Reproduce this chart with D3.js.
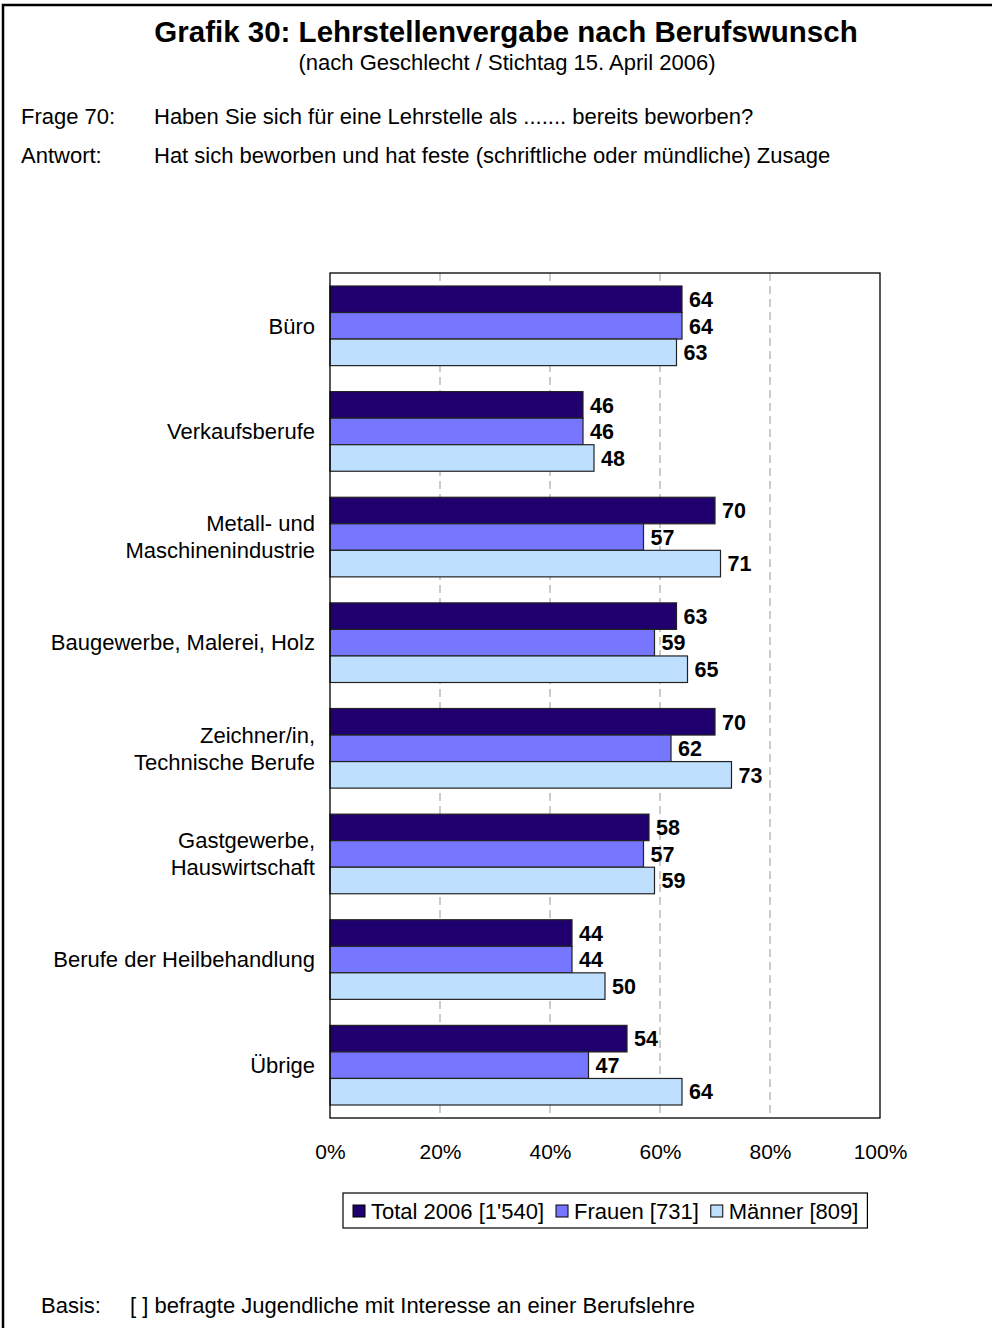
<!DOCTYPE html>
<html><head><meta charset="utf-8">
<script src="https://cdn.jsdelivr.net/npm/d3@7"></script>
<style>
html,body{margin:0;padding:0;background:#fff;}
svg{display:block;font-family:"Liberation Sans",Arial,sans-serif;}
</style></head>
<body>
<svg id="c" width="992" height="1328"></svg>
<script>
const categories = [["Büro"],["Verkaufsberufe"],["Metall- und","Maschinenindustrie"],["Baugewerbe, Malerei, Holz"],["Zeichner/in,","Technische Berufe"],["Gastgewerbe,","Hauswirtschaft"],["Berufe der Heilbehandlung"],["Übrige"]];
const seriesNames = ["Total 2006 [1'540]","Frauen [731]","Männer [809]"];
const total2006 = [64,46,70,63,70,58,44,54];
const frauen = [64,46,57,59,62,57,44,47];
const maenner = [63,48,71,65,73,59,50,64];
const seriesValues = [total2006, frauen, maenner];
const xTicks = [0,20,40,60,80,100];
const colors = ["#1f006e","#7676ff","#bfdfff"];

const svg = d3.select("#c");
const font = "\"Liberation Sans\",Arial,sans-serif";
const fs = 22;

// outer frame
svg.append("rect").attr("x",3).attr("y",5).attr("width",1000).attr("height",1400)
  .attr("fill","none").attr("stroke","#000").attr("stroke-width",2.5);

svg.append("text").attr("x",506).attr("y",32).attr("dy","0.35em").attr("text-anchor","middle")
  .attr("font-size",29.5).attr("font-weight","bold").text("Grafik 30: Lehrstellenvergabe nach Berufswunsch");
svg.append("text").attr("x",507).attr("y",62).attr("dy","0.35em").attr("text-anchor","middle")
  .attr("font-size",fs).text("(nach Geschlecht / Stichtag 15. April 2006)");
svg.append("text").attr("x",21).attr("y",116).attr("dy","0.35em").attr("font-size",fs).text("Frage 70:");
svg.append("text").attr("x",154).attr("y",116).attr("dy","0.35em").attr("font-size",fs).text("Haben Sie sich für eine Lehrstelle als ....... bereits beworben?");
svg.append("text").attr("x",21).attr("y",155).attr("dy","0.35em").attr("font-size",fs).text("Antwort:");
svg.append("text").attr("x",154).attr("y",155).attr("dy","0.35em").attr("font-size",fs).text("Hat sich beworben und hat feste (schriftliche oder mündliche) Zusage");
svg.append("text").attr("x",41).attr("y",1305).attr("dy","0.35em").attr("font-size",fs).text("Basis:");
svg.append("text").attr("x",130).attr("y",1305).attr("dy","0.35em").attr("font-size",fs).text("[ ] befragte Jugendliche mit Interesse an einer Berufslehre");

const L=330, R=880, T=273, B=1118;
const x = d3.scaleLinear().domain([0,100]).range([L,R]);
const y = d3.scaleBand().domain(d3.range(categories.length)).range([T,B]).padding(0);
const inner = d3.scaleBand().domain(d3.range(seriesNames.length)).range([0,y.bandwidth()]).paddingInner(0).paddingOuter(0.49);

const g = svg.append("g");
// gridlines
g.selectAll("line.grid").data(xTicks.filter(t=>t>0&&t<100)).join("line")
  .attr("x1",d=>x(d)).attr("x2",d=>x(d)).attr("y1",T).attr("y2",B)
  .attr("stroke","#999").attr("stroke-width",1).attr("stroke-dasharray","8,5");

// bars
seriesValues.forEach((vals,si)=>{
  g.selectAll("rect.s"+si).data(vals).join("rect")
    .attr("x",x(0)).attr("y",(d,i)=>y(i)+inner(si))
    .attr("width",d=>x(d)-x(0)).attr("height",inner.bandwidth())
    .attr("fill",colors[si]).attr("stroke","#222").attr("stroke-width",1.2);
  g.selectAll("text.v"+si).data(vals).join("text")
    .attr("x",d=>x(d)+7).attr("y",(d,i)=>y(i)+inner(si)+inner.bandwidth()/2).attr("dy","0.36em")
    .attr("font-size",21.5).attr("font-weight","bold").text(d=>d);
});

// plot frame
svg.append("rect").attr("x",L).attr("y",T).attr("width",R-L).attr("height",B-T)
  .attr("fill","none").attr("stroke","#000").attr("stroke-width",1.3);

// category labels
categories.forEach((lines,i)=>{
  const cy = y(i)+y.bandwidth()/2;
  const t = svg.append("text").attr("text-anchor","end").attr("font-size",fs);
  lines.forEach((ln,j)=>{
    t.append("tspan").attr("x",315).attr("y",cy+(j-(lines.length-1)/2)*27).attr("dy","0.35em").text(ln);
  });
});

// x axis
const xAxis = d3.axisBottom(x).tickValues(xTicks).tickFormat(d=>d+"%").tickSize(0).tickPadding(0);
const ax = svg.append("g").attr("transform",`translate(0,${1152})`).call(xAxis);
ax.select(".domain").remove();
ax.selectAll("text").attr("font-size",21).attr("font-family",font).attr("fill","#000").attr("dy","0.35em").attr("y",0);

// legend
const lg = svg.append("g");
let cx = 353;
const ly = 1211;
seriesNames.forEach((n,i)=>{
  lg.append("rect").attr("x",cx).attr("y",ly-6).attr("width",12).attr("height",12)
    .attr("fill",colors[i]).attr("stroke","#000").attr("stroke-width",1);
  const t = lg.append("text").attr("x",cx+18).attr("y",ly).attr("dy","0.35em").attr("font-size",fs).text(n);
  cx += 18 + t.node().getComputedTextLength() + 12;
});
lg.insert("rect",":first-child").attr("x",343).attr("y",1193).attr("width",cx-12+9-343).attr("height",35)
  .attr("fill","#fff").attr("stroke","#000").attr("stroke-width",1.2);
</script>
</body></html>
